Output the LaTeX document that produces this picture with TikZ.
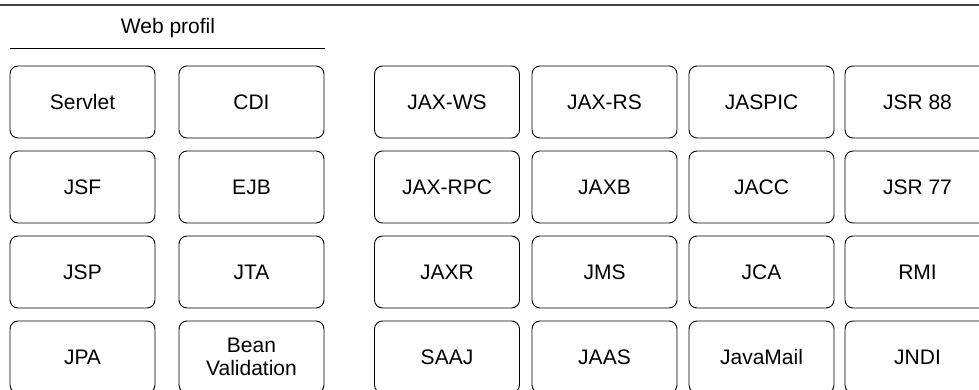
\documentclass[tikz,border=0pt]{standalone}
\usepackage{fontspec}
\setmainfont{Liberation Sans}
\usetikzlibrary{positioning}

\tikzset{
  api/.style={draw, rounded corners=8pt, line width=0.9pt, inner sep=0pt,
    minimum width=145pt, minimum height=72pt, align=center,
    font=\fontsize{21}{23}\selectfont},
}

\begin{document}
\begin{tikzpicture}[x=1pt, y=-1pt]
            \useasboundingbox (0,0) rectangle (979,390);
            \clip (0,0) rectangle (979,390);
            \draw[line width=1.4pt, black!75] (0,5) -- (979,5);
            \node[font=\fontsize{21}{23}\selectfont] (webprofil) at (168,28) {Web profil};
            \draw[line width=0.9pt] (10,48.5) -- (325,48.5);
            % web profile
            \node[api] (servlet) at (82.5,102) {Servlet};
            \node[api] (cdi) at (251.5,102) {CDI};
            \node[api] (jsf) at (82.5,187) {JSF};
            \node[api] (ejb) at (251.5,187) {EJB};
            \node[api] (jsp) at (82.5,272) {JSP};
            \node[api] (jta) at (251.5,272) {JTA};
            \node[api] (jpa) at (82.5,357) {JPA};
            \node[api] (beanval) at (251.5,357) {Bean\\Validation};
            % full platform
            \node[api] (jaxws) at (447,102) {JAX-WS};
            \node[api] (jaxrs) at (604.5,102) {JAX-RS};
            \node[api] (jaspic) at (761.5,102) {JASPIC};
            \node[api] (jsr88) at (917.5,102) {JSR 88};
            \node[api] (jaxrpc) at (447,187) {JAX-RPC};
            \node[api] (jaxb) at (604.5,187) {JAXB};
            \node[api] (jacc) at (761.5,187) {JACC};
            \node[api] (jsr77) at (917.5,187) {JSR 77};
            \node[api] (jaxr) at (447,272) {JAXR};
            \node[api] (jms) at (604.5,272) {JMS};
            \node[api] (jca) at (761.5,272) {JCA};
            \node[api] (rmi) at (917.5,272) {RMI};
            \node[api] (saaj) at (447,357) {SAAJ};
            \node[api] (jaas) at (604.5,357) {JAAS};
            \node[api] (javamail) at (761.5,357) {JavaMail};
            \node[api] (jndi) at (917.5,357) {JNDI};
        \end{tikzpicture}
\end{document}
